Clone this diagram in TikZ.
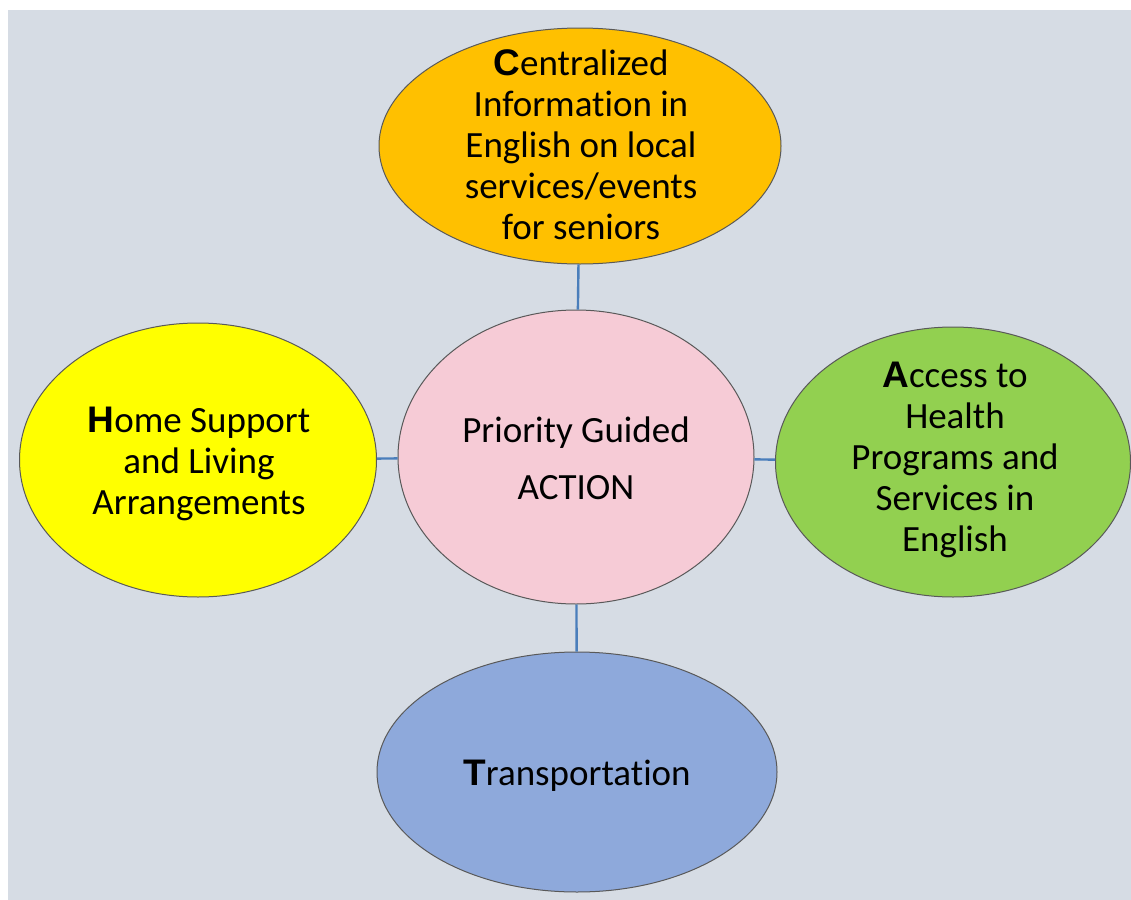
\documentclass[tikz,border=0pt]{standalone}
\usepackage{fontspec}
\setmainfont{Carlito}[Ligatures=NoCommon]
\newfontfamily\capfont{Liberation Sans}
\usepackage{tikz}
\usetikzlibrary{shapes.geometric}
\definecolor{bgcolor}{HTML}{D6DCE4}
\definecolor{infocolor}{HTML}{FFC000}
\definecolor{actioncolor}{HTML}{F6CBD6}
\definecolor{homecolor}{HTML}{FFFF00}
\definecolor{healthcolor}{HTML}{92D050}
\definecolor{transcolor}{HTML}{8EA9DB}
\definecolor{linkcolor}{HTML}{4A7EBB}
\newcommand{\firstletter}[1]{{\capfont\bfseries #1}}
\tikzstyle{bubble} = [ellipse, inner sep=0pt, draw=black!65, line width=0.5pt]
\tikzstyle{caption} = [align=center, inner sep=0pt, font=\fontsize{18.5}{20.5}\selectfont]
\tikzstyle{link} = [linkcolor, line width=1.2pt]

\begin{document}
\begin{tikzpicture}[x=0.5pt, y=-0.5pt]
	\useasboundingbox (0,0) rectangle (1131,900);
	\fill [bgcolor] (8,10) rectangle (1131,900);

	\node (info) [bubble, fill=infocolor, minimum width=201pt, minimum height=118pt] at (580,146) {};
	\node (action) [bubble, fill=actioncolor, minimum width=178pt, minimum height=147pt] at (576,457) {};
	\node (home) [bubble, fill=homecolor, minimum width=178.5pt, minimum height=137pt] at (198,460) {};
	\node (health) [bubble, fill=healthcolor, minimum width=177.5pt, minimum height=135pt] at (953,462) {};
	\node (trans) [bubble, fill=transcolor, minimum width=200pt, minimum height=120pt] at (577,772) {};

	\node (infotext) [caption] at (581,145) {\firstletter{C}entralized\\Information in\\English on local\\services/events\\for seniors};
	\node (actiontext) [caption, font=\fontsize{18.5}{28.5}\selectfont] at (576,458) {Priority Guided\\ACTION};
	\node (hometext) [caption] at (199,464) {\firstletter{H}ome Support\\and Living\\Arrangements};
	\node (healthtext) [caption] at (955,460) {\firstletter{A}ccess to\\Health\\Programs and\\Services in\\English};
	\node (transtext) [caption] at (577,776) {\firstletter{T}ransportation};

	\draw [link] (info) -- (action);
	\draw [link] (home) -- (action);
	\draw [link] (action) -- (health);
	\draw [link] (action) -- (trans);
\end{tikzpicture}
\end{document}
